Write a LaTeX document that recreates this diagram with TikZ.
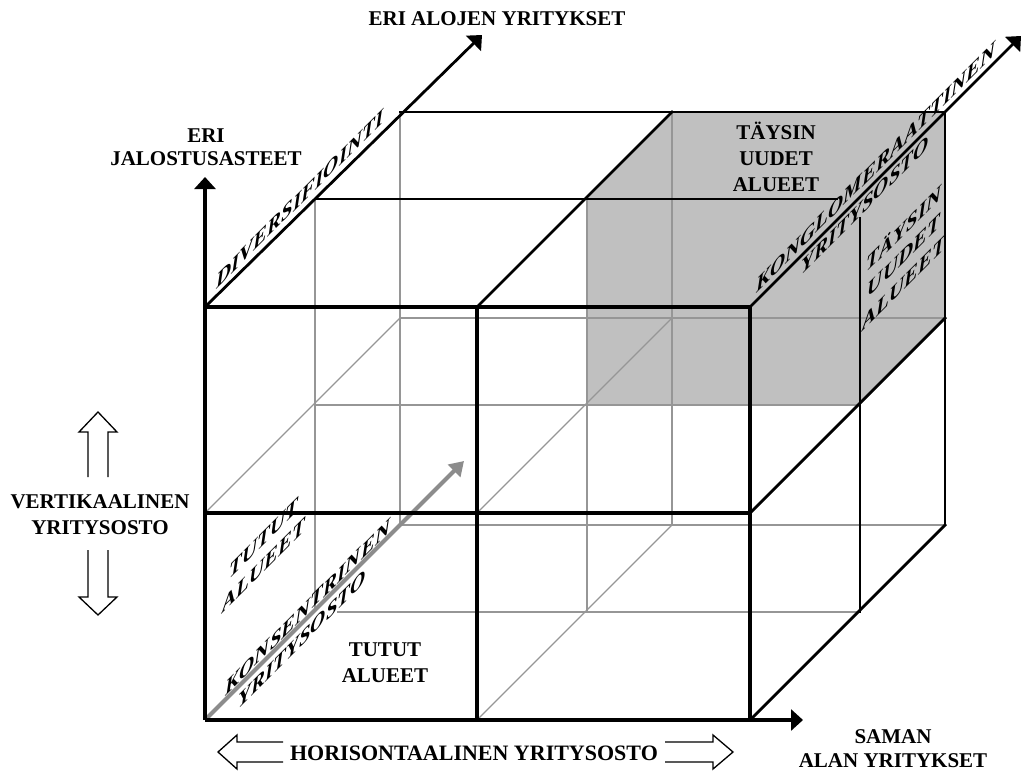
\documentclass[tikz,border=0pt]{standalone}
\usepackage{fontspec}
\setmainfont{Liberation Serif}
\usetikzlibrary{arrows.meta}
\definecolor{hidgray}{RGB}{150,150,150}
\definecolor{arrgray}{RGB}{140,140,140}
\definecolor{boxgray}{RGB}{192,192,192}

\begin{document}
\begin{tikzpicture}[
    x=1pt, y=-1pt,
    font=\fontsize{21}{26}\selectfont\bfseries,
    front/.style={line width=3.4pt, line cap=rect},
    edge/.style={line width=2.8pt, line cap=rect},
    hidden/.style={draw=hidgray, line width=1.3pt},
    axis/.style={-{Triangle[width=21pt,length=12pt]}, line width=2.8pt},
    depth/.style={-{Triangle[width=17pt,length=14pt]}, draw=arrgray, line width=4pt},
    hollow/.style={line width=1.3pt, line join=miter},
    plain/.style={align=center, inner sep=0pt},
    sheared/.style={yslant=1, align=center, inner sep=0pt,
        font=\fontsize{21}{27}\selectfont\bfseries\itshape}
]

\useasboundingbox (0,0) rectangle (1024,771);

\foreach \i/\px in {0/205,1/477,2/750}
  \foreach \j/\py in {0/720,1/513,2/307}
    \foreach \k/\dx/\dy in {0/0/0,1/110/-108,2/195/-195}
      \coordinate (p\i\j\k) at ({\px+\dx},{\py+\dy});

\coordinate (ytip) at (205,177);
\coordinate (xtip) at (803,720);
\coordinate (divtip) at (482,35);
\coordinate (kontip) at (1021,36);
\coordinate (ctip) at (464,461);
\coordinate (topgap) at (837,199);
\coordinate (rightgap) at (860,218);
\coordinate (botgap) at (337,612);

\fill[boxgray] (p111) -- (p121) -- (p122) -- (p222) -- (p212) -- (p211) -- cycle;

\foreach \j/\k in {0/2,1/1,1/2}
  \draw[hidden] (p0\j\k) -- (p2\j\k);
\draw[hidden] (botgap) -- (p201);
\foreach \i/\k in {0/1,0/2,1/1,1/2}
  \draw[hidden] (p\i0\k) -- (p\i2\k);
\foreach \i/\j in {0/1,1/0,1/1}
  \draw[hidden] (p\i\j0) -- (p\i\j2);

\draw[depth] (p000) -- (ctip);

\foreach \j in {1,2}
  \draw[front] (p0\j0) -- (p2\j0);
\draw[front] (p100) -- (p120);
\draw[front, line width=4.5pt] (p200) -- (p220);

\draw[edge] (p021) -- (topgap);
\draw[edge] (p022) -- (p222);
\draw[edge] (p120) -- (p122);
\draw[edge] (p201) -- (rightgap);
\draw[edge] (p202) -- (p222);
\draw[edge] (p200) -- (p202);
\draw[edge] (p210) -- (p212);

\draw[axis, line width=3.4pt] (p000) -- (ytip);
\draw[axis, line width=3.4pt] (p000) -- (xtip);
\draw[axis] (p020) -- (divtip);
\draw[axis] (p220) -- (kontip);

\node[plain] (alojen) at (497,19) {ERI ALOJEN YRITYKSET};
\node[plain, font=\fontsize{21}{23}\selectfont\bfseries] (jalostus) at (206,147) {ERI\\JALOSTUSASTEET};
\node[plain] (taysin) at (776,157) {TÄYSIN\\UUDET\\ALUEET};
\node[plain] (tutut) at (385,663) {TUTUT\\ALUEET};
\node[plain] (vert) at (100,515) {VERTIKAALINEN\\YRITYSOSTO};
\node[plain, font=\fontsize{22}{26}\selectfont\bfseries] (horis) at (474,753) {HORISONTAALINEN YRITYSOSTO};
\node[plain, font=\fontsize{21}{24}\selectfont\bfseries] (saman) at (893,749) {SAMAN\\ALAN YRITYKSET};

\node[sheared] (divers) at (300,199) {DIVERSIFIOINTI};
\node[sheared] (konglo) at (876,167) {KONGLOMERAATTINEN};
\node[sheared] (konglob) at (865,205) {YRITYSOSTO};
\node[sheared] (taysinr) at (904,254) {TÄYSIN\\UUDET\\ALUEET};
\node[sheared] (tututr) at (264,552) {TUTUT\\ALUEET};
\node[sheared] (konsen) at (308,607) {KONSENTRINEN};
\node[sheared] (konsenb) at (302,639) {YRITYSOSTO};

\draw[hollow] (88,477) |- (79,432) -- (98,412) -- (117,432) -| (108,477);
\draw[hollow] (88,550) |- (79,597) -- (98,615) -- (117,597) -| (108,550);
\draw[hollow] (283,742) -| (237,735) -- (218,752) -- (237,769) |- (283,762);
\draw[hollow] (665,742) -| (713,735) -- (733,752) -- (713,769) |- (665,762);

\end{tikzpicture}
\end{document}
